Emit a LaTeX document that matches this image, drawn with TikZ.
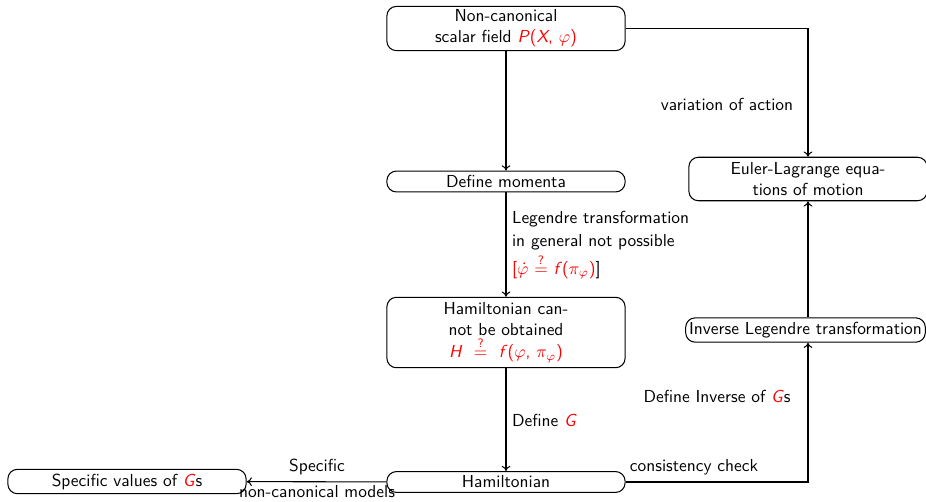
\documentclass[tikz,border=0pt]{standalone}
\usepackage{amsmath}
\usetikzlibrary{arrows.meta}
\newcommand{\mi}[1]{\textit{#1}}
\newcommand{\qeq}{$\stackrel{\text{?}}{=}$}
\begin{document}
\begin{tikzpicture}[x=0.575pt,y=-0.575pt,
  font=\sffamily,
  box/.style={draw,rounded corners=5.5pt,minimum width=137pt,align=center,inner sep=2pt,line width=0.6pt},
  conn/.style={-{To[length=3pt,width=5pt]},line width=0.6pt},
  lbl/.style={inner sep=1pt}]
\useasboundingbox (0,0) rectangle (926,501);
\node[box,minimum height=25pt] (scalar) at (506,28.5) {Non-canonical\\scalar field \textcolor{red}{\mi{P}(\mi{X}, $\varphi$)}};
\node[box,minimum height=12pt] (mom) at (506,181.5) {Define momenta};
\node[box,minimum height=40.5pt] (hcan) at (506,332.5) {Hamiltonian can-\\not be obtained\\[1pt]\textcolor{red}{\mi{H}\ \ \qeq\ \ \mi{f}($\varphi$, $\pi_\varphi$)}};
\node[box,minimum height=12pt] (ham) at (506,482) {Hamiltonian};
\node[box,minimum height=14pt] (spec) at (127,481.5) {Specific values of \textcolor{red}{\mi{G}}s};
\node[box,minimum height=25pt] (el) at (808,179) {Euler-Lagrange equa-\\tions of motion};
\node[box,minimum width=134pt,minimum height=14pt] (inv) at (805.5,330) {Inverse Legendre transformation};
\coordinate (c1) at (808,28.5);
\coordinate (c2) at (808,482);
\draw[conn] (scalar) -- (mom);
\draw[conn] (scalar.east) -- (c1) -- (el.north);
\draw[conn] (mom) -- (hcan);
\draw[conn] (hcan) -- (ham);
\draw[conn] (ham) -- (spec);
\draw[conn] (ham.east) -- (c2) -- (c2 |- inv.south);
\draw[conn] (el.south |- inv.north) -- (el.south);
\node[lbl] (l1) at (727,104) {variation of action};
\node[lbl,align=left,anchor=west] (l2) at (510,245) {Legendre transformation\\[1.5pt]in general not possible\\[1pt]\textcolor{red}{[$\dot\varphi$ \qeq\ \mi{f}($\pi_\varphi$)}]};
\node[lbl,anchor=west] (l3) at (510,420) {Define \textcolor{red}{\mi{G}}};
\node[lbl] (l4) at (317,467) {Specific};
\node[lbl] (l5) at (317,492) {non-canonical models};
\node[lbl] (l6) at (694,467) {consistency check};
\node[lbl] (l7) at (717,396) {Define Inverse of \textcolor{red}{\mi{G}}s};
\end{tikzpicture}
\end{document}
